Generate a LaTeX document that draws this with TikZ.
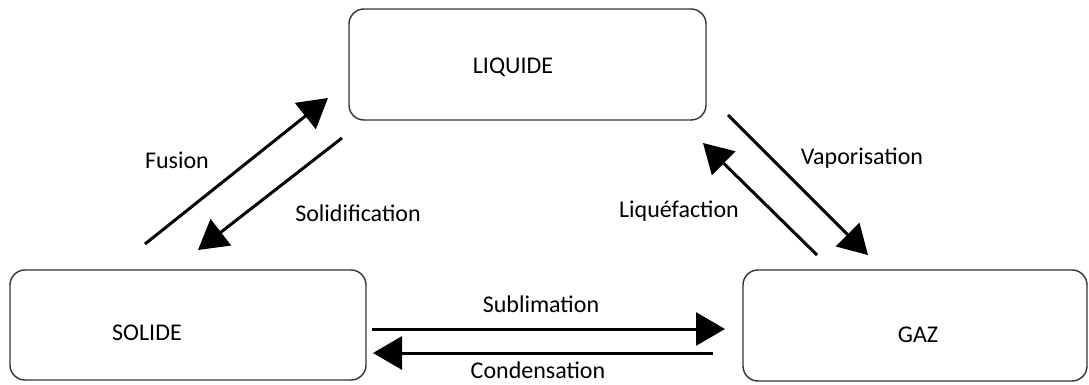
\documentclass[tikz,border=0pt]{standalone}
\usepackage{fontspec}
\setmainfont{Carlito}
\usetikzlibrary{arrows.meta}
\begin{document}
\begin{tikzpicture}[x=1pt,y=-1pt,
  statebox/.style={draw=black!80,line width=1.4pt,rounded corners=15pt,inner sep=0pt},
  txt/.style={font=\fontsize{24}{28}\selectfont,inner sep=0pt},
  flow/.style={line width=3pt,-{Triangle[length=29pt,width=33pt]}}]
\useasboundingbox (0,0) rectangle (1089,385);
\node[statebox,minimum width=357pt,minimum height=111pt] (liq) at (527.5,64.5) {};
\node[statebox,minimum width=356pt,minimum height=110pt] (sol) at (188,325) {};
\node[statebox,minimum width=344pt,minimum height=111pt] (gaz) at (915,325.5) {};
\node[txt] (tliq) at (513,67) {LIQUIDE};
\node[txt] (tsol) at (147,333) {SOLIDE};
\node[txt] (tgaz) at (918,335) {GAZ};
% arrow end points
\coordinate (f1) at (145,244); \coordinate (f2) at (328,98);
\coordinate (s1) at (342,138); \coordinate (s2) at (198,250);
\coordinate (v1) at (728,115); \coordinate (v2) at (868,255);
\coordinate (l1) at (817,255); \coordinate (l2) at (703,143);
\coordinate (b1) at (372,329); \coordinate (b2) at (725,329);
\coordinate (c1) at (713,353); \coordinate (c2) at (373,353);
\draw[flow] (f1) -- (f2);
\draw[flow] (s1) -- (s2);
\draw[flow] (v1) -- (v2);
\draw[flow] (l1) -- (l2);
\draw[flow] (b1) -- (b2);
\draw[flow] (c1) -- (c2);
\node[txt] (lf) at (177,160) {Fusion};
\node[txt] (ls) at (358,213) {Solidification};
\node[txt] (lv) at (862,158) {Vaporisation};
\node[txt] (ll) at (679,211) {Liquéfaction};
\node[txt] (lb) at (541,304) {Sublimation};
\node[txt] (lc) at (538,370) {Condensation};
\end{tikzpicture}
\end{document}
